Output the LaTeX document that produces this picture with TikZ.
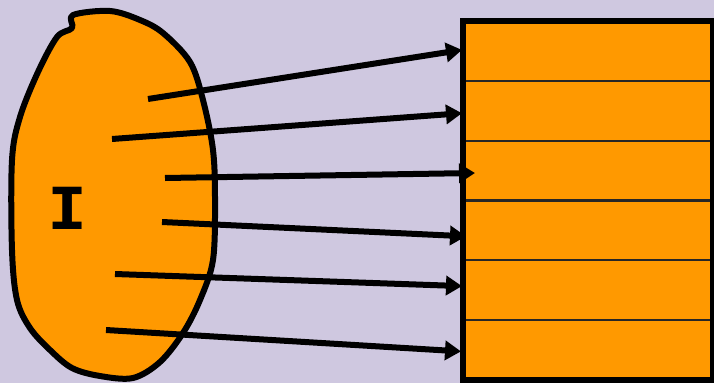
\documentclass[tikz,border=0pt]{standalone}
\usepackage{fontspec}
\newfontfamily\monofont{DejaVu Sans Mono}
\usetikzlibrary{arrows.meta,calc}
\definecolor{bgcol}{RGB}{207,200,224}
\definecolor{orng}{RGB}{255,153,0}
\tikzset{
  rowbox/.style={draw=black!85, line width=2.2pt, fill=orng, minimum width=250pt, minimum height=59.8pt, inner sep=0pt, outer sep=0pt},
  arr/.style={line width=6pt, -{Triangle[length=16pt,width=19pt]}},
}
\begin{document}
\begin{tikzpicture}[x=1pt,y=-1pt]
\fill[bgcol] (0,0) rectangle (714,383);
\useasboundingbox (0,0) rectangle (714,383);
\clip (0,0) rectangle (714,383);
% blob
\draw[line width=6pt, fill=orng, line join=round]
  plot[smooth cycle, tension=0.55] coordinates {
   (73,15) (110,11) (140,20) (163,33) (190,62) (203,100) (213,150) (215,200)
   (213,260) (200,300) (183,333) (160,362) (133,378) (100,376) (72,368)
   (50,350) (30,328) (17,300) (12,250) (12,160) (20,117) (38,72) (57,37) (72,28)};
\node[font=\monofont\bfseries\fontsize{58}{58}\selectfont, inner sep=0pt, xscale=1.15] (lbl) at (68,208) {I};
% rows
\foreach \i in {1,...,6} {
  \node[rowbox] (r\i) at (588, {21+29.9+59.8*(\i-1)}) {};
}
\draw[line width=6.5pt] (r1.north west) rectangle (r6.south east);
% arrow starts
\coordinate (s1) at (148,99);
\coordinate (s2) at (112,139);
\coordinate (s3) at (165,178);
\coordinate (s4) at (162,222);
\coordinate (s5) at (115,274);
\coordinate (s6) at (106,330);
\draw[arr] (s1) -- ($(r1.west)+(-1,-1)$);
\draw[arr] (s2) -- ($(r2.west)+(-1,2.5)$);
\draw[arr] (s3) -- ($(r3.west)+(12,2.5)$);
\draw[arr] (s4) -- ($(r4.west)+(3,6)$);
\draw[arr] (s5) -- ($(r5.west)+(-1,-4)$);
\draw[arr] (s6) -- ($(r6.west)+(-2,1.5)$);
\end{tikzpicture}
\end{document}
